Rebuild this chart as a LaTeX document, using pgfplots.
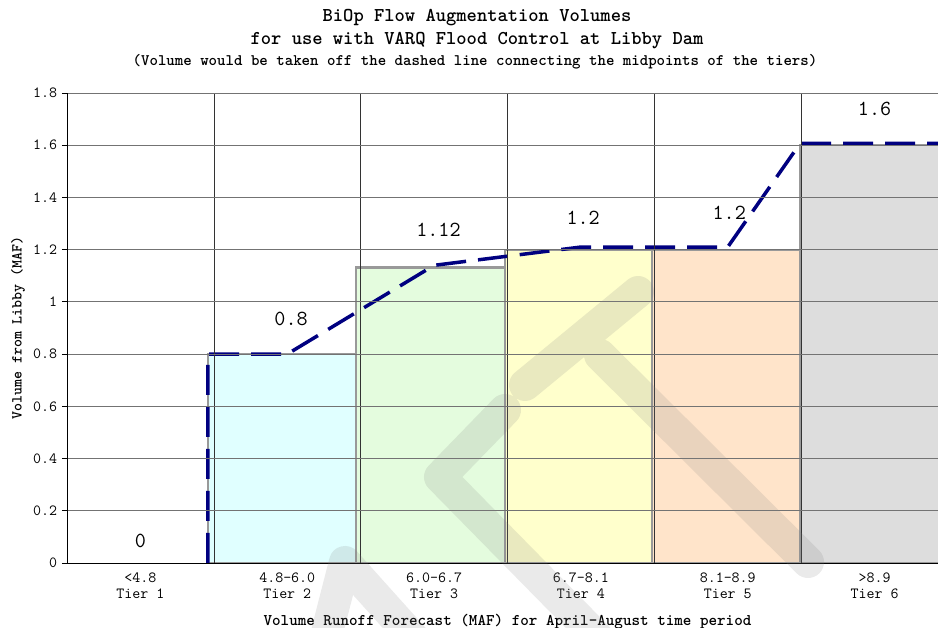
\documentclass[border=0pt]{standalone}
\usepackage{pgfplots}
\pgfplotsset{compat=1.18}
\definecolor{navyline}{RGB}{0,0,128}
\definecolor{tiertwo}{RGB}{224,255,255}
\definecolor{tierthree}{RGB}{228,252,222}
\definecolor{tierfour}{RGB}{255,255,204}
\definecolor{tierfive}{RGB}{255,228,202}
\definecolor{tiersix}{RGB}{221,221,221}
\definecolor{barborder}{RGB}{153,153,153}
\begin{document}
\begin{tikzpicture}[x=1pt,y=1pt]
\path[use as bounding box] (0,0) rectangle (938,628);
\begin{axis}[
  at={(67pt,65pt)}, anchor=south west,
  scale only axis, width=881pt, height=470pt,
  xmin=0, xmax=6, ymin=0, ymax=1.8,
  axis x line*=bottom, axis y line*=left,
  axis line style={-, black, line width=0.8pt},
  axis on top,
  /pgf/number format/assume math mode=true,
  ytick={0,0.2,0.4,0.6,0.8,1,1.2,1.4,1.6,1.8},
  yticklabels={0,0.2,0.4,0.6,0.8,1,1.2,1.4,1.6,1.8},
  yticklabel style={font=\fontsize{15.5}{16}\selectfont\ttfamily, inner sep=0pt, anchor=east, xshift=-4.7pt},
  ymajorgrids,
  y grid style={black!55, line width=0.9pt},
  tick align=outside,
  major tick length=5pt,
  ytick style={black, line width=0.8pt},
  xtick={0.5,1.5,2.5,3.5,4.5,5.5},
  xticklabels={{<4.8\\Tier 1},{4.8-6.0\\Tier 2},{6.0-6.7\\Tier 3},{6.7-8.1\\Tier 4},{8.1-8.9\\Tier 5},{>8.9\\Tier 6}},
  xticklabel style={font=\fontsize{15.5}{16}\selectfont\ttfamily, align=center, inner sep=0pt, anchor=north, yshift=-5pt},
  major x tick style={draw=none},
  minor xtick={1,2,3,4,5},
  xminorgrids,
  minor x grid style={black!80, line width=0.6pt},
  minor tick length=0pt,
  xlabel={Volume Runoff Forecast (MAF) for April-August time period},
  xlabel style={font=\fontsize{16.3}{17}\selectfont\ttfamily\bfseries, at={(axis description cs:0.5,0)}, anchor=center, yshift=-58.7pt},
  ylabel={Volume from Libby (MAF)},
  every axis y label/.style={at={(axis description cs:-0.0556,0.5)}, rotate=90, anchor=center, font=\fontsize{15.2}{16}\selectfont\ttfamily\bfseries},
  clip=false,
]
% tier bars
\addplot[fill=tiertwo, draw=barborder, line width=2.2pt] coordinates {(0.96,0) (0.96,0.8) (1.969,0.8) (1.969,0)} \closedcycle;
\addplot[fill=tierthree, draw=barborder, line width=2.2pt] coordinates {(1.969,0) (1.969,1.132) (2.984,1.132) (2.984,0)} \closedcycle;
\addplot[fill=tierfour, draw=barborder, line width=2.2pt] coordinates {(2.984,0) (2.984,1.2) (3.985,1.2) (3.985,0)} \closedcycle;
\addplot[fill=tierfive, draw=barborder, line width=2.2pt] coordinates {(3.985,0) (3.985,1.2) (4.993,1.2) (4.993,0)} \closedcycle;
\addplot[fill=tiersix, draw=barborder, line width=2.2pt] coordinates {(4.993,0) (4.993,1.6) (6.05,1.6) (6.05,0)} \closedcycle;
% dashed line through tier midpoints
\addplot[navyline, line width=3.5pt, dash pattern=on 30pt off 12pt, mark=none] coordinates {
  (0.96,0) (0.96,0.8) (1.5,0.8) (2.5,1.14) (3.5,1.21) (4.5,1.21) (4.993,1.607) (6.05,1.607)};
% value labels
\addplot[draw=none, mark=none, nodes near coords, point meta=explicit symbolic,
  every node near coord/.append style={anchor=center, font=\fontsize{21.5}{22}\selectfont\ttfamily, inner sep=0pt}]
  coordinates {(0.5,0.084)[0] (1.526,0.934)[0.8] (2.53,1.275)[1.12] (3.515,1.321)[1.2] (4.51,1.342)[1.2] (5.5,1.739)[1.6]};
\end{axis}
% watermark
\draw[black!50, draw opacity=0.17, line width=32pt, line cap=round, line join=round]
  (505,218) -- (440,151) -- (600,-12)
  (325,-12) -- (345,66) -- (415,-12)
  (525,243) -- (638,336)
  (600,273) -- (808,66);
% titles
\node[font=\fontsize{19.6}{20}\selectfont\ttfamily\bfseries] at (477,610.7) {BiOp Flow Augmentation Volumes};
\node[font=\fontsize{19.6}{20}\selectfont\ttfamily\bfseries] at (477,587.5) {for use with VARQ Flood Control at Libby Dam};
\node[font=\fontsize{16.1}{17}\selectfont\ttfamily\bfseries] at (475,566.5) {(Volume would be taken off the dashed line connecting the midpoints of the tiers)};
\end{tikzpicture}
\end{document}
